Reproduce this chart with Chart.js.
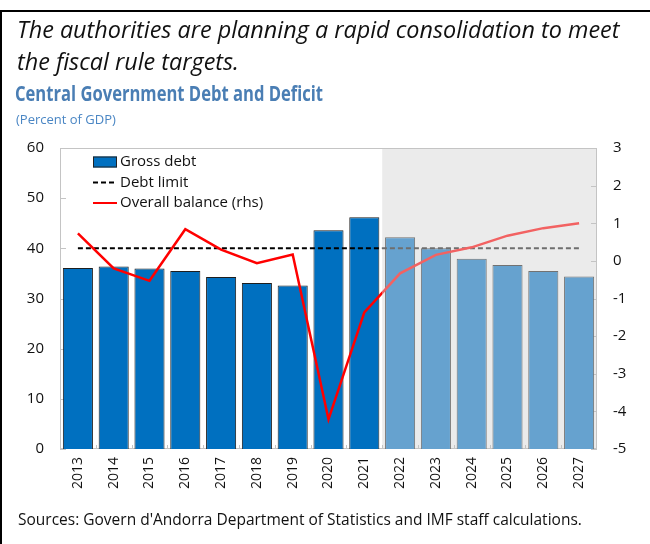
<!DOCTYPE html>
<html>
<head>
<meta charset="utf-8">
<script src="https://cdn.jsdelivr.net/npm/chart.js@4/dist/chart.umd.min.js"></script>
<style>
  html, body { margin: 0; padding: 0; background: #fff; }
  #wrap { position: relative; width: 650px; height: 544px; overflow: hidden; font-family: "Open Sans", sans-serif; }
  #wrap canvas { position: absolute; left: 0; top: 0; }
  .frameTop { position: absolute; left: 0; top: 10px; width: 650px; height: 2px; background: #000; }
  .frameLeft { position: absolute; left: 0; top: 10px; width: 2px; height: 534px; background: #000; }
  .headline { position: absolute; left: 17px; top: 13px; font-style: italic; font-size: 23.4px; line-height: 32px; color: #111; white-space: nowrap; }
  .title { position: absolute; left: 15px; top: 79px; font-weight: bold; font-size: 21px; color: #4a7eb4; white-space: nowrap;
           transform: scaleX(0.79); transform-origin: left top; }
  .subtitle { position: absolute; left: 16px; top: 110px; font-size: 13px; color: #4a86c4; white-space: nowrap; }
  .source { position: absolute; left: 18px; top: 508px; font-size: 15.5px; color: #111; white-space: nowrap; }
</style>
</head>
<body>
<div id="wrap">
  <canvas id="debtChart" width="650" height="544"></canvas>
  <div class="frameTop"></div>
  <div class="frameLeft"></div>
  <div class="headline">The authorities are planning a rapid consolidation to meet<br>the fiscal rule targets.</div>
  <div class="title">Central Government Debt and Deficit</div>
  <div class="subtitle">(Percent of GDP)</div>
  <div class="source">Sources: Govern d'Andorra Department of Statistics and IMF staff calculations.</div>
</div>
<script>
/* ---------- data ---------- */
const years = ["2013", "2014", "2015", "2016", "2017", "2018", "2019", "2020",
               "2021", "2022", "2023", "2024", "2025", "2026", "2027"];
const grossDebt = [36.1, 36.4, 36.0, 35.5, 34.3, 33.1, 32.6, 43.6,
                   46.2, 42.2, 40.0, 37.9, 36.7, 35.5, 34.4];
const debtLimit = [40, 40, 40, 40, 40, 40, 40, 40,
                   40, 40, 40, 40, 40, 40, 40];
const overallBalance = [0.73, -0.20, -0.53, 0.84, 0.30, -0.06, 0.17, -4.21,
                        -1.37, -0.33, 0.16, 0.36, 0.67, 0.87, 1.00];
const firstProjection = "2022";
const leftTicks = [0, 10, 20, 30, 40, 50, 60];
const rightTicks = [-5, -4, -3, -2, -1, 0, 1, 2, 3];

const projIdx = years.indexOf(firstProjection);
const tickFont = { family: "Open Sans", size: 15 };

// x pixel of the border between actual and projected years
function projectionX(chart) {
    const x = chart.scales.x;
    return (x.getPixelForValue(projIdx - 1) + x.getPixelForValue(projIdx)) / 2;
}

// solid colour up to the projection border, second colour after it
function splitColor(c1, c2) {
    return (ctx) => {
        const chart = ctx.chart;
        const area = chart.chartArea;
        if (!area || !chart.scales.x) return c1;
        const f = (projectionX(chart) - area.left) / (area.right - area.left);
        const g = chart.ctx.createLinearGradient(area.left, 0, area.right, 0);
        g.addColorStop(0, c1);
        g.addColorStop(f, c1);
        g.addColorStop(f, c2);
        g.addColorStop(1, c2);
        return g;
    };
}

/* ---------- plugins ---------- */
const frameBox = {
    id: "frameBox",
    beforeDatasetsDraw(chart) {
        const { ctx, chartArea: a, scales } = chart;
        ctx.save();
        // projection shading
        ctx.fillStyle = "#ebebeb";
        const px = projectionX(chart);
        ctx.fillRect(px, a.top, a.right - px, a.bottom - a.top);

        // plot border + inner ticks
        ctx.strokeStyle = "#c4c4c4";
        ctx.lineWidth = 1;
        ctx.strokeRect(a.left + 0.5, a.top + 0.5, a.right - a.left - 1, a.bottom - a.top - 1);
        ctx.beginPath();
        leftTicks.forEach(v => {
            const y = Math.round(scales.y.getPixelForValue(v)) + 0.5;
            ctx.moveTo(a.left, y); ctx.lineTo(a.left + 6, y);
        });
        rightTicks.forEach(v => {
            const y = Math.round(scales.y1.getPixelForValue(v)) + 0.5;
            ctx.moveTo(a.right, y); ctx.lineTo(a.right - 6, y);
        });
        for (let i = 1; i < years.length; i++) {
            const x = Math.round((scales.x.getPixelForValue(i - 1) + scales.x.getPixelForValue(i)) / 2) + 0.5;
            ctx.moveTo(x, a.bottom); ctx.lineTo(x, a.bottom - 4);
        }
        ctx.stroke();
        ctx.restore();
    }
};

const boxLegend = {
    id: "boxLegend",
    afterDraw(chart) {
        const { ctx, chartArea: a } = chart;
        const x0 = a.left + 33, y0 = a.top + 14, row = 20.5;
        ctx.save();
        ctx.font = "15px 'Open Sans'";
        ctx.textBaseline = "middle";
        ctx.fillStyle = "#111";
        chart.data.datasets.forEach((ds, i) => {
            const y = y0 + i * row;
            if (ds.type === "bar") {
                ctx.fillStyle = "#0070c0";
                ctx.fillRect(x0, y - 5.5, 24, 11);
                ctx.strokeStyle = "#222";
                ctx.strokeRect(x0 + 0.5, y - 5, 23, 10);
            } else {
                ctx.strokeStyle = ds.legendColor;
                ctx.lineWidth = 2;
                ctx.setLineDash(ds.borderDash || []);
                ctx.beginPath();
                ctx.moveTo(x0, y); ctx.lineTo(x0 + 24, y);
                ctx.stroke();
                ctx.setLineDash([]);
            }
            ctx.fillStyle = "#111";
            ctx.fillText(ds.label, x0 + 27, y);
        });
        ctx.restore();
    }
};

/* ---------- chart ---------- */
new Chart(document.getElementById("debtChart"), {
    data: {
        labels: years,
        datasets: [
            {
                type: "bar",
                label: "Gross debt",
                data: grossDebt,
                yAxisID: "y",
                backgroundColor: (c) => c.dataIndex >= projIdx ? "#66a2cf" : "#0070c0",
                borderColor: (c) => c.dataIndex >= projIdx ? "#727272" : "#1e1e1e",
                borderWidth: 1,
                categoryPercentage: 1,
                barPercentage: 0.84,
                order: 3
            },
            {
                type: "line",
                label: "Debt limit",
                data: debtLimit,
                yAxisID: "y",
                borderColor: splitColor("#000", "#6e6e6e"),
                legendColor: "#000",
                borderWidth: 2,
                borderDash: [5, 3],
                pointRadius: 0,
                order: 2
            },
            {
                type: "line",
                label: "Overall balance (rhs)",
                data: overallBalance,
                yAxisID: "y1",
                borderColor: splitColor("#ff0000", "#f26262"),
                legendColor: "#ff0000",
                borderWidth: 2.5,
                pointRadius: 0,
                tension: 0,
                order: 1
            }
        ]
    },
    options: {
        responsive: false,
        animation: false,
        layout: { padding: { left: 0, right: 0, top: 148, bottom: 0 } },
        plugins: {
            legend: { display: false },
            tooltip: { enabled: false }
        },
        scales: {
            x: {
                offset: true,
                grid: { display: false, drawTicks: false },
                border: { display: false },
                ticks: {
                    font: { family: "Open Sans", size: 14 },
                    color: "#111",
                    minRotation: 90,
                    maxRotation: 90,
                    padding: 8
                },
                afterFit: (s) => { s.height = 95; }
            },
            y: {
                position: "left",
                min: 0, max: 60,
                grid: { display: false, drawTicks: false },
                border: { display: false },
                ticks: { stepSize: 10, font: tickFont, color: "#111", padding: 16 },
                afterFit: (s) => { s.width = 60; }
            },
            y1: {
                position: "right",
                min: -5, max: 3,
                grid: { display: false, drawTicks: false },
                border: { display: false },
                ticks: { stepSize: 1, font: tickFont, color: "#111", padding: 16 },
                afterFit: (s) => { s.width = 53; }
            }
        }
    },
    plugins: [frameBox, boxLegend]
});
</script>
</body>
</html>
